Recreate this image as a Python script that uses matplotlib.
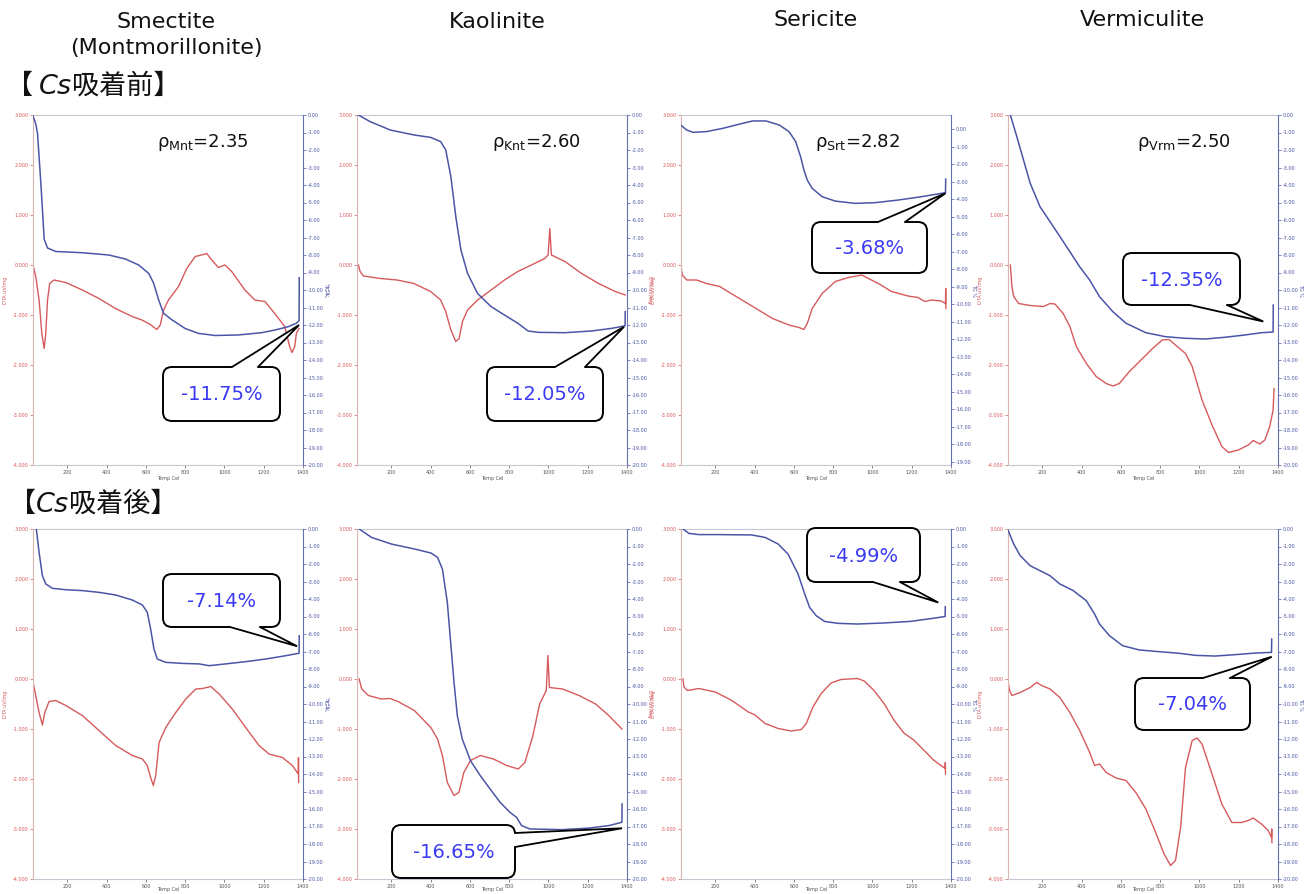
import matplotlib
matplotlib.use("Agg")
import matplotlib.pyplot as plt
from matplotlib.patches import FancyBboxPatch, Polygon

W, H = 1315, 894

# ---- data: temperature (Cel), DTA (uV/mg), TG (%) ----
# Smectite, before Cs
smec_pre_dta_t = [23, 39, 56, 70, 82, 90, 99, 110, 132, 192, 276, 361, 445, 530, 580, 622, 656, 673, 690, 715,
                  766, 808, 851, 884, 910, 935, 969, 1003, 1037, 1104, 1155, 1206, 1256, 1307, 1332, 1344, 1358, 1366, 1380]
smec_pre_dta = [0.03, -0.23, -0.7, -1.37, -1.67, -1.37, -0.7, -0.37, -0.3, -0.35, -0.5, -0.67, -0.87, -1.03, -1.1,
                -1.19, -1.29, -1.2, -0.9, -0.7, -0.43, -0.07, 0.17, 0.2, 0.23, 0.1, -0.05, 0.0, -0.13, -0.5, -0.7,
                -0.73, -0.97, -1.23, -1.63, -1.75, -1.63, -1.37, -1.27]
smec_pre_tg_t = [23, 39, 48, 65, 82, 99, 141, 276, 411, 496, 563, 614, 639, 665, 690, 732, 800, 868, 952, 1070,
                 1189, 1256, 1324, 1366, 1380, 1381]
smec_pre_tg = [0, -0.5, -1.05, -3.9, -7.1, -7.6, -7.8, -7.87, -8.0, -8.23, -8.57, -9.05, -9.6, -10.57, -11.33,
               -11.7, -12.2, -12.48, -12.6, -12.57, -12.44, -12.29, -12.1, -11.9, -11.75, -9.3]

# Kaolinite, before Cs
kaol_pre_dta_t = [32, 41, 58, 144, 229, 315, 400, 451, 477, 503, 528, 545, 562, 588, 639, 708, 776, 844, 913, 981,
                  998, 1007, 1015, 1084, 1169, 1255, 1340, 1391]
kaol_pre_dta = [0.0, -0.13, -0.22, -0.27, -0.3, -0.37, -0.53, -0.7, -0.93, -1.3, -1.53, -1.47, -1.13, -0.9, -0.7,
                -0.5, -0.3, -0.13, 0.0, 0.13, 0.2, 0.73, 0.2, 0.07, -0.17, -0.37, -0.53, -0.6]
kaol_pre_tg_t = [32, 92, 195, 315, 400, 451, 477, 503, 528, 554, 588, 639, 708, 776, 844, 896, 947, 1084, 1221,
                 1323, 1390, 1391]
kaol_pre_tg = [0, -0.38, -0.86, -1.14, -1.28, -1.52, -2.0, -3.52, -5.8, -7.7, -9.05, -10.2, -10.95, -11.43, -11.9,
               -12.34, -12.42, -12.44, -12.34, -12.19, -12.05, -11.24]

# Sericite, before Cs
seri_pre_dta_t = [23, 32, 54, 104, 155, 222, 306, 407, 491, 575, 626, 651, 668, 693, 744, 811, 878, 946, 980, 1030,
                  1097, 1181, 1232, 1266, 1300, 1350, 1372, 1373, 1374]
seri_pre_dta = [0, -0.2, -0.3, -0.3, -0.37, -0.43, -0.63, -0.87, -1.07, -1.2, -1.25, -1.29, -1.17, -0.87, -0.57,
                -0.33, -0.25, -0.2, -0.27, -0.37, -0.53, -0.62, -0.65, -0.73, -0.7, -0.72, -0.77, -0.47, -0.87]
seri_pre_tg_t = [23, 54, 87, 155, 239, 323, 390, 458, 525, 575, 609, 634, 651, 668, 693, 744, 811, 912, 1013, 1131,
                 1249, 1350, 1372, 1373]
seri_pre_tg = [0.25, -0.04, -0.17, -0.13, 0.06, 0.3, 0.48, 0.48, 0.25, -0.13, -0.7, -1.56, -2.32, -2.9, -3.37,
               -3.85, -4.1, -4.23, -4.19, -4.04, -3.85, -3.66, -3.62, -2.84]

# Vermiculite, before Cs
verm_pre_dta_t = [37, 45, 54, 79, 138, 205, 239, 264, 306, 340, 373, 424, 474, 525, 559, 592, 643, 710, 761, 811,
                  845, 878, 929, 963, 1013, 1064, 1114, 1148, 1198, 1249, 1274, 1307, 1333, 1358, 1375, 1380]
verm_pre_dta = [0, -0.43, -0.63, -0.77, -0.81, -0.83, -0.77, -0.78, -0.97, -1.23, -1.63, -1.97, -2.23, -2.37, -2.42,
                -2.37, -2.13, -1.87, -1.67, -1.5, -1.49, -1.6, -1.77, -2.03, -2.7, -3.2, -3.63, -3.75, -3.7, -3.6,
                -3.51, -3.58, -3.5, -3.23, -2.9, -2.47]
verm_pre_tg_t = [37, 70, 104, 138, 188, 256, 323, 390, 441, 491, 559, 626, 727, 828, 929, 1030, 1131, 1232, 1316,
                 1375, 1376]
verm_pre_tg = [0, -1.24, -2.57, -3.9, -5.24, -6.38, -7.52, -8.67, -9.43, -10.38, -11.24, -11.9, -12.44, -12.67,
               -12.76, -12.8, -12.7, -12.57, -12.44, -12.4, -10.86]

# Smectite, after Cs
smec_post_dta_t = [22, 39, 56, 73, 85, 107, 141, 192, 276, 361, 446, 531, 582, 607, 624, 638, 650, 667, 701, 752,
                   803, 854, 888, 930, 973, 1040, 1108, 1176, 1227, 1295, 1346, 1376, 1377, 1378]
smec_post_dta = [0, -0.33, -0.67, -0.92, -0.67, -0.45, -0.43, -0.53, -0.73, -1.03, -1.33, -1.53, -1.6, -1.73, -1.97,
                 -2.13, -1.93, -1.27, -0.97, -0.67, -0.4, -0.2, -0.19, -0.15, -0.3, -0.6, -0.97, -1.33, -1.5, -1.57,
                 -1.73, -1.9, -1.57, -2.07]
smec_post_tg_t = [42, 56, 73, 90, 124, 192, 276, 361, 446, 531, 582, 607, 624, 641, 658, 701, 786, 871, 922, 1006,
                  1108, 1210, 1312, 1380, 1381]
smec_post_tg = [0, -1.33, -2.67, -3.14, -3.39, -3.47, -3.52, -3.62, -3.77, -4.06, -4.34, -4.76, -5.71, -6.86, -7.43,
                -7.62, -7.68, -7.71, -7.81, -7.71, -7.58, -7.43, -7.24, -7.1, -6.1]

# Kaolinite, after Cs
kaol_post_dta_t = [36, 49, 83, 150, 192, 234, 317, 401, 435, 460, 485, 519, 544, 569, 603, 653, 720, 787, 846, 880,
                   921, 955, 989, 997, 1005, 1072, 1156, 1240, 1307, 1374]
kaol_post_dta = [0, -0.2, -0.33, -0.4, -0.39, -0.45, -0.63, -0.97, -1.2, -1.53, -2.07, -2.33, -2.27, -1.87, -1.63,
                 -1.53, -1.6, -1.73, -1.8, -1.67, -1.13, -0.5, -0.23, 0.47, -0.17, -0.2, -0.33, -0.5, -0.73, -1.0]
kaol_post_tg_t = [36, 99, 200, 317, 401, 435, 460, 485, 502, 519, 536, 561, 603, 653, 703, 754, 804, 838, 863, 905,
                  1072, 1207, 1307, 1374, 1375]
kaol_post_tg = [0, -0.48, -0.86, -1.14, -1.37, -1.62, -2.29, -4.19, -6.48, -8.76, -10.67, -12.0, -13.24, -14.1,
                -14.86, -15.62, -16.19, -16.48, -16.95, -17.14, -17.18, -17.09, -16.95, -16.76, -15.71]

# Sericite, after Cs
seri_post_dta_t = [35, 40, 57, 116, 200, 284, 368, 402, 453, 520, 587, 638, 663, 697, 739, 789, 840, 924, 958, 1008,
                   1059, 1109, 1160, 1210, 1261, 1311, 1370, 1371, 1372]
seri_post_dta = [0, -0.16, -0.23, -0.19, -0.26, -0.43, -0.66, -0.72, -0.89, -0.99, -1.04, -1.01, -0.89, -0.56,
                 -0.29, -0.08, -0.01, 0.01, -0.04, -0.23, -0.49, -0.82, -1.08, -1.22, -1.42, -1.62, -1.79, -1.67, -1.9]
seri_post_tg_t = [35, 65, 116, 217, 385, 453, 520, 570, 621, 655, 680, 713, 756, 823, 924, 1059, 1193, 1311, 1370,
                  1371]
seri_post_tg = [0, -0.25, -0.32, -0.32, -0.34, -0.48, -0.86, -1.43, -2.57, -3.71, -4.48, -4.95, -5.28, -5.39, -5.43,
                -5.37, -5.28, -5.1, -5.0, -4.44]

# Vermiculite, after Cs
verm_post_dta_t = [23, 33, 45, 87, 138, 171, 197, 239, 289, 340, 390, 441, 466, 491, 525, 575, 626, 676, 727, 777,
                   820, 853, 878, 904, 929, 963, 988, 1013, 1064, 1114, 1165, 1215, 1249, 1274, 1316, 1350, 1367,
                   1368, 1369]
verm_post_dta = [0, -0.23, -0.33, -0.27, -0.17, -0.07, -0.13, -0.2, -0.37, -0.67, -1.03, -1.47, -1.73, -1.7, -1.87,
                 -1.98, -2.03, -2.27, -2.6, -3.07, -3.5, -3.73, -3.63, -2.97, -1.77, -1.23, -1.18, -1.3, -1.9, -2.5,
                 -2.87, -2.87, -2.83, -2.78, -2.9, -3.03, -3.17, -3.0, -3.27]
verm_post_tg_t = [23, 54, 87, 138, 188, 239, 289, 357, 424, 466, 491, 542, 609, 693, 794, 895, 980, 1080, 1181, 1283,
                  1367, 1368]
verm_post_tg = [0, -0.86, -1.52, -2.1, -2.38, -2.67, -3.14, -3.52, -4.1, -4.86, -5.43, -6.1, -6.67, -6.91, -7.01,
                -7.1, -7.22, -7.26, -7.18, -7.09, -7.05, -6.29]

minerals = ["Smectite\n(Montmorillonite)", "Kaolinite", "Sericite", "Vermiculite"]
densities = [r"ρ$_{\mathrm{Mnt}}$=2.35", r"ρ$_{\mathrm{Knt}}$=2.60",
             r"ρ$_{\mathrm{Srt}}$=2.82", r"ρ$_{\mathrm{Vrm}}$=2.50"]
loss_pre = ["-11.75%", "-12.05%", "-3.68%", "-12.35%"]
loss_post = ["-7.14%", "-16.65%", "-4.99%", "-7.04%"]
# where each callout points (temperature, TG %)
tip_pre = [(1380, -12.0), (1385, -12.1), (1372, -3.65), (1325, -11.8)]
tip_post = [(1370, -6.7), (1375, -17.1), (1335, -4.2), (1368, -7.3)]

dta_ticks = [3, 2, 1, 0, -1, -2, -3, -4]
temp_ticks = [200, 400, 600, 800, 1000, 1200, 1400]

# ---- layout (pixels, origin top-left) ----
col_left = [33, 357, 681, 1008]
row_top = [115, 529]
pw, ph = 270, 350
# callout boxes: (x0, y0, x1, y1), two base points of the pointer
boxes_pre = [((163, 367, 280, 421), [(232, 367), (258, 367)]),
             ((487, 367, 603, 421), [(555, 367), (585, 367)]),
             ((812, 222, 927, 273), [(878, 222), (905, 222)]),
             ((1123, 253, 1240, 305), [(1190, 305), (1227, 305)])]
boxes_post = [((163, 574, 280, 627), [(230, 627), (260, 627)]),
              ((392, 825, 515, 878), [(515, 833), (515, 847)]),
              ((807, 528, 920, 582), [(873, 582), (900, 582)]),
              ((1135, 678, 1250, 730), [(1203, 678), (1230, 678)])]

RED = "#d65a5c"
BLUE = "#4b55a6"
TXT_BLUE = "#3a3af5"
CJK = ["Noto Sans CJK JP", "DejaVu Sans"]

fig = plt.figure(figsize=(W / 100, H / 100), dpi=100, facecolor="white")

panels = [
    (0, 0, smec_pre_dta_t, smec_pre_dta, smec_pre_tg_t, smec_pre_tg, (-20, 0)),
    (0, 1, kaol_pre_dta_t, kaol_pre_dta, kaol_pre_tg_t, kaol_pre_tg, (-20, 0)),
    (0, 2, seri_pre_dta_t, seri_pre_dta, seri_pre_tg_t, seri_pre_tg, (-19.18, 0.82)),
    (0, 3, verm_pre_dta_t, verm_pre_dta, verm_pre_tg_t, verm_pre_tg, (-20, 0)),
    (1, 0, smec_post_dta_t, smec_post_dta, smec_post_tg_t, smec_post_tg, (-20, 0)),
    (1, 1, kaol_post_dta_t, kaol_post_dta, kaol_post_tg_t, kaol_post_tg, (-20, 0)),
    (1, 2, seri_post_dta_t, seri_post_dta, seri_post_tg_t, seri_post_tg, (-20, 0)),
    (1, 3, verm_post_dta_t, verm_post_dta, verm_post_tg_t, verm_post_tg, (-20, 0)),
]

tg_axes = {}
for row, col, dt, dv, tt, tv, tglim in panels:
    x0, y0 = col_left[col], row_top[row]
    ax = fig.add_axes([x0 / W, 1 - (y0 + ph) / H, pw / W, ph / H])
    ax2 = ax.twinx()
    ax.plot(dt, dv, color=RED, lw=1.0, solid_joinstyle="round")
    ax2.plot(tt, tv, color=BLUE, lw=1.1, solid_joinstyle="round")
    ax.set_xlim(25, 1400)
    ax.set_ylim(-4, 3)
    ax2.set_ylim(*tglim)

    ax.set_xticks(temp_ticks)
    ax.set_xticklabels([str(t) for t in temp_ticks])
    ax.set_yticks(dta_ticks)
    ax.set_yticklabels([f"{v:.3f}" for v in dta_ticks])
    tg_ticks = [v for v in range(0, -21, -1) if tglim[0] <= v <= tglim[1]]
    ax2.set_yticks(tg_ticks)
    ax2.set_yticklabels([f"{v:.2f}" for v in tg_ticks])

    ax.tick_params(axis="x", colors="#555555", labelsize=3.5, length=2, width=0.5, pad=1.5)
    ax.tick_params(axis="y", colors=RED, labelsize=3.5, length=2, width=0.5, pad=1.5)
    ax2.tick_params(axis="y", colors=BLUE, labelsize=3.5, length=2, width=0.5, pad=1.5)
    for s in ["top", "bottom"]:
        ax.spines[s].set_color("#c4c8d4")
        ax.spines[s].set_linewidth(0.8)
    ax.spines["left"].set_color("#dcb4b4")
    ax.spines["left"].set_linewidth(0.8)
    ax.spines["right"].set_visible(False)
    for s in ["top", "bottom", "left"]:
        ax2.spines[s].set_visible(False)
    ax2.spines["right"].set_color("#6670b0")
    ax2.spines["right"].set_linewidth(0.8)

    ax.set_xlabel("Temp Cel", fontsize=3.5, color="#555555", labelpad=1)
    if row == 1:
        # keep the label inside the figure at the bottom edge
        ax.xaxis.set_label_coords(0.5, -0.024)
    if col == 1:
        ax.set_ylabel("TG %", fontsize=3.5, color=BLUE, labelpad=3)
        ax2.set_ylabel("DTA uV/mg", fontsize=3.5, color=RED, labelpad=3, rotation=270)
    else:
        ax.set_ylabel("DTA uV/mg", fontsize=3.5, color=RED, labelpad=3)
        ax2.set_ylabel("TG %", fontsize=3.5, color=BLUE, labelpad=3, rotation=270)
    tg_axes[(row, col)] = ax2

# overlay in pixel coordinates for titles and callouts
ov = fig.add_axes([0, 0, 1, 1])
ov.set_xlim(0, W)
ov.set_ylim(H, 0)
ov.axis("off")
ov.set_zorder(20)
ov.patch.set_alpha(0)

title_x = [166, 497, 816, 1142]
title_y = [12, 12, 10, 10]
for name, x, y in zip(minerals, title_x, title_y):
    ov.text(x, y, name, ha="center", va="top", fontsize=16, family="DejaVu Sans",
            linespacing=1.35, color="#111111")

for rho, x in zip(densities, [157, 492, 815, 1137]):
    ov.text(x, 147, rho, ha="left", va="baseline", fontsize=13, color="#111111")

renderer = fig.canvas.get_renderer()


def inline_label(x, y, parts):
    for s, fam, style in parts:
        t = ov.text(x, y, s, ha="left", va="baseline", fontsize=19.5, family=fam,
                    style=style, color="#111111")
        x += t.get_window_extent(renderer).width


inline_label(6, 94, [("【 ", CJK, "normal"), ("Cs", "DejaVu Sans", "italic"), ("吸着前】", CJK, "normal")])
inline_label(9, 512, [("【", CJK, "normal"), ("Cs", "DejaVu Sans", "italic"), ("吸着後】", CJK, "normal")])


def callout(box, base, tip_px, label):
    bx0, by0, bx1, by1 = box
    ov.add_patch(FancyBboxPatch((bx0, by0), bx1 - bx0, by1 - by0,
                                boxstyle="round,pad=0,rounding_size=9",
                                fc="white", ec="black", lw=1.4, zorder=21))
    (ax_, ay_), (bx_, by_) = base
    cx, cy = (bx0 + bx1) / 2, (by0 + by1) / 2
    if ay_ in (by0, by1):
        d = 3 if cy > ay_ else -3
        inner = [(bx_, by_ + d), (ax_, ay_ + d)]
    else:
        d = 3 if cx > ax_ else -3
        inner = [(bx_ + d, by_), (ax_ + d, ay_)]
    ov.add_patch(Polygon([(ax_, ay_), tip_px, (bx_, by_)] + inner, closed=True,
                         fc="white", ec="none", zorder=22))
    ov.plot([ax_, tip_px[0], bx_], [ay_, tip_px[1], by_], color="black", lw=1.3, zorder=23,
            solid_joinstyle="miter")
    ov.text(cx, cy + 1, label, ha="center", va="center", fontsize=14, color=TXT_BLUE, zorder=24)


for row, (losses, tips, boxes) in enumerate([(loss_pre, tip_pre, boxes_pre),
                                              (loss_post, tip_post, boxes_post)]):
    for col in range(4):
        disp = tg_axes[(row, col)].transData.transform(tips[col])
        tip_px = tuple(ov.transData.inverted().transform(disp))
        box, base = boxes[col]
        callout(box, base, tip_px, losses[col])

fig.savefig("out.png", dpi=100, facecolor="white")
